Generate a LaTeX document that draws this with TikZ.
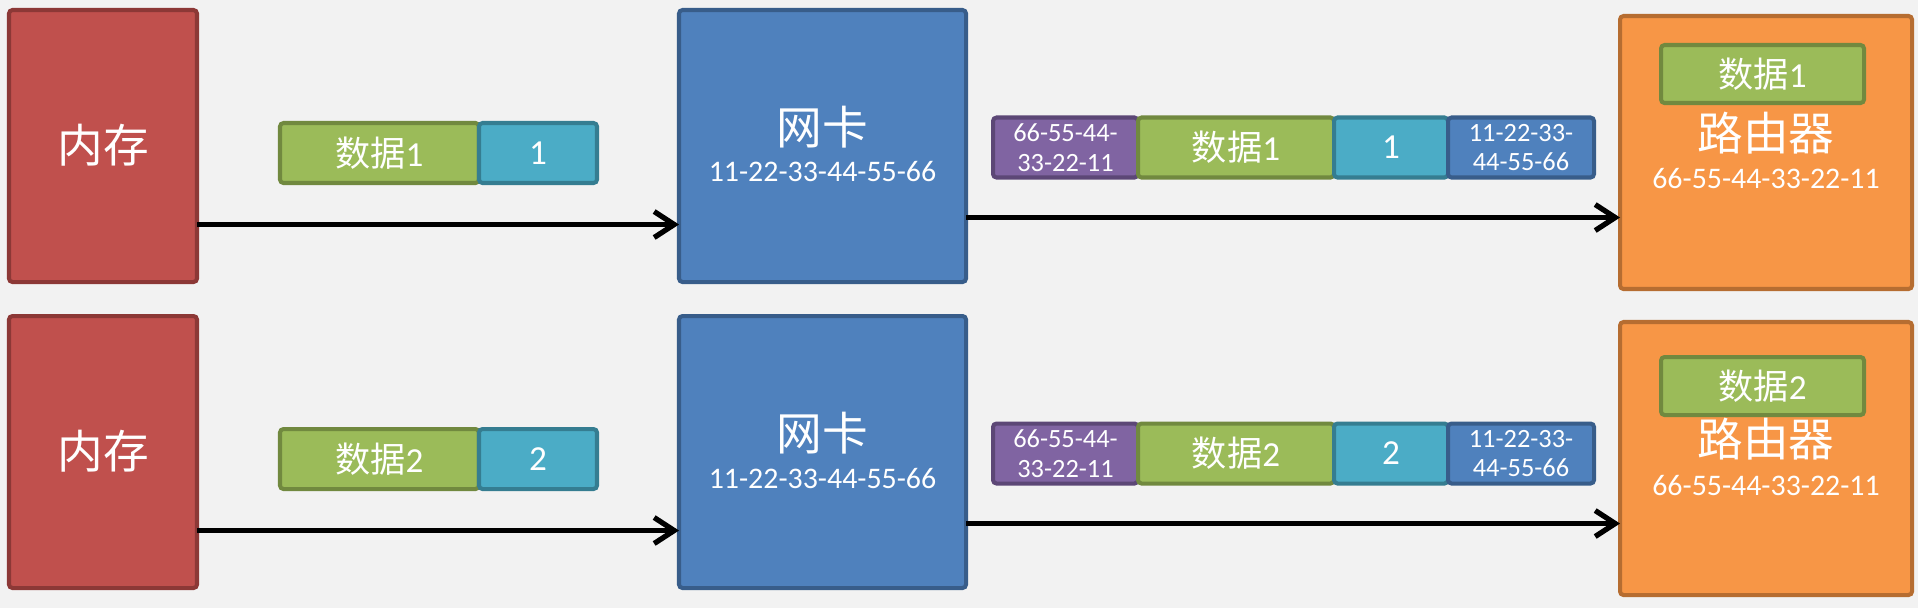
\documentclass[tikz,border=0pt]{standalone}
\usepackage{fontspec}
\setmainfont{Carlito}
\newfontfamily\cjk{Noto Sans CJK SC}
\usepackage{xcolor}
\definecolor{BGcolor}{HTML}{F2F2F2}
\definecolor{MEMfill}{HTML}{C0504D}
\definecolor{MEMline}{HTML}{8C3836}
\definecolor{NICfill}{HTML}{4F81BD}
\definecolor{NICline}{HTML}{385D8A}
\definecolor{RTRfill}{HTML}{F79646}
\definecolor{RTRline}{HTML}{B66D31}
\definecolor{DATAfill}{HTML}{9BBB59}
\definecolor{DATAline}{HTML}{71893F}
\definecolor{SEQfill}{HTML}{4BACC6}
\definecolor{SEQline}{HTML}{357D91}
\definecolor{MACfill}{HTML}{8064A2}
\definecolor{MACline}{HTML}{5C4776}
\usepackage{tikz}
\usetikzlibrary{positioning, arrows.meta}

\begin{document}
\begin{tikzpicture}
    \tikzset{%
        box/.style={draw, line width=1.15pt, rounded corners=1pt, inner sep=0pt, outer sep=0pt, text=white},
        bigbox/.style={box, minimum height=2.72cm},
        cellbox/.style={box, minimum height=0.6cm, font=\fontsize{10}{10}\selectfont},
        title/.style={text=white, inner sep=0pt, font=\cjk\fontsize{13}{13}\selectfont},
        addr/.style={text=white, inner sep=0pt, font=\fontsize{8.5}{8.5}\selectfont},
        link/.style={line width=1.5pt, -{Straight Barb[length=2mm,width=2.6mm]}},
        pics/msgrow/.style args={#1/#2}{code={%
                        % memory
                        \node [bigbox, fill=MEMfill, draw=MEMline, minimum width=1.88cm] (mem#1) at (1.03, -1.46) {};
                        \node [title] (memname#1) at (1.03, -1.45) {内存};
                        \node [cellbox, fill=DATAfill, draw=DATAline, minimum width=1.99cm] (pkt#1) at (3.795, -1.53) {{\cjk 数据}#1};
                        \node [cellbox, fill=SEQfill, draw=SEQline, minimum width=1.18cm, right=0pt of pkt#1] (seq#1) {#1};

                        % NIC
                        \node [bigbox, fill=NICfill, draw=NICline, minimum width=2.87cm] (nic#1) at (8.225, -1.46) {};
                        \node [title] (nicname#1) at (8.225, -1.27) {网卡};
                        \node [addr] (nicmac#1) at (8.225, -1.72) {11-22-33-44-55-66};

                        % frame
                        \node [cellbox, fill=MACfill, draw=MACline, minimum width=1.45cm, align=center, font=\fontsize{7.5}{8.5}\selectfont] (dst#1) at (10.655, -1.475) {66-55-44-\\33-22-11};
                        \node [cellbox, fill=DATAfill, draw=DATAline, minimum width=1.96cm, right=0pt of dst#1] (fdata#1) {{\cjk 数据}#1};
                        \node [cellbox, fill=SEQfill, draw=SEQline, minimum width=1.14cm, right=0pt of fdata#1] (fseq#1) {#1};
                        \node [cellbox, fill=NICfill, draw=NICline, minimum width=1.46cm, right=0pt of fseq#1, align=center, font=\fontsize{7.5}{8.5}\selectfont] (src#1) {11-22-33-\\44-55-66};

                        % router
                        \node [bigbox, fill=RTRfill, draw=RTRline, minimum width=2.92cm, minimum height=2.73cm] (rtr#1) at (17.66, -1.525) {};
                        \node [cellbox, fill=DATAfill, draw=DATAline, minimum width=2.03cm, minimum height=0.58cm] (rdata#1) at (17.625, {-0.74-#2}) {{\cjk 数据}#1};
                        \node [title] (rtrname#1) at (17.66, -1.33) {路由器};
                        \node [addr] (rtrmac#1) at (17.66, -1.79) {66-55-44-33-22-11};

                        \draw [link] ([yshift=-7.85mm]mem#1.east) -- ([yshift=-7.85mm]nic#1.west);
                        \coordinate (out#1) at ([yshift=-7.15mm]nic#1.east);
                        \draw [link] (out#1) -- (rtr#1.west |- out#1);
                    }
            }
    }

    \fill [BGcolor] (0, 0) rectangle (19.18, -6.08);
    \useasboundingbox (0, 0) rectangle (19.18, -6.08);

    \pic at (0, 0) {msgrow=1/0};
    \pic at (0, -3.06) {msgrow=2/0.06};
\end{tikzpicture}
\end{document}
